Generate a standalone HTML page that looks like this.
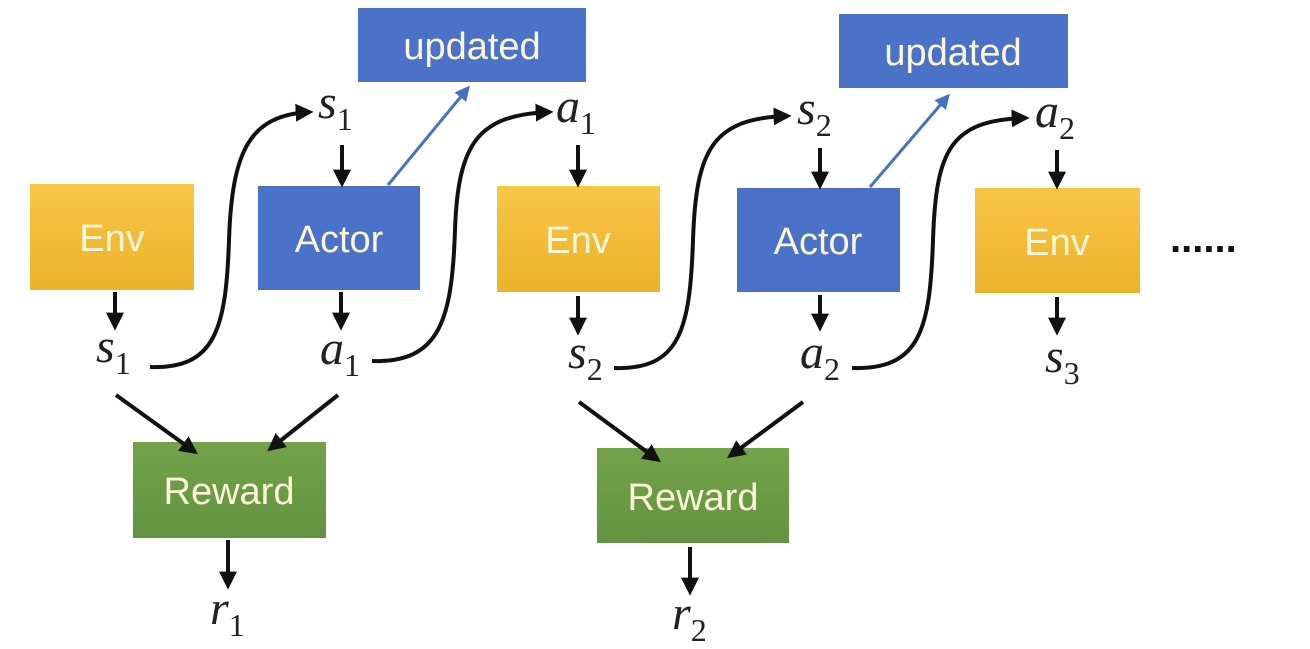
<!DOCTYPE html>
<html><head><meta charset="utf-8"><style>
html,body{margin:0;padding:0;background:#fff;width:1310px;height:649px;overflow:hidden}
svg{display:block}
.bx{font-family:"Liberation Sans",sans-serif;font-size:38px;fill:#fdf6d8;text-anchor:middle}
.m{font-family:"Liberation Serif",serif;font-style:italic;font-size:48px;fill:#222}
.sub{font-family:"Liberation Serif",serif;font-style:normal;font-size:32px}
.k{stroke:#111;stroke-width:4;fill:none}
</style></head><body>
<svg width="1310" height="649" viewBox="0 0 1310 649" xmlns="http://www.w3.org/2000/svg">
<defs>
<marker id="ar" viewBox="0 0 10 10" refX="8" refY="5" markerWidth="4.5" markerHeight="4.5" orient="auto"><path d="M0,0 L10,5 L0,10 Z" fill="#111"/></marker>
<marker id="ab" viewBox="0 0 10 10" refX="8" refY="5" markerWidth="5" markerHeight="5" orient="auto"><path d="M0,0 L10,5 L0,10 Z" fill="#4472c4"/></marker>
<linearGradient id="gy" x1="0" y1="0" x2="0" y2="1"><stop offset="0" stop-color="#f8c545"/><stop offset="1" stop-color="#ebb32c"/></linearGradient>
<linearGradient id="gg" x1="0" y1="0" x2="0" y2="1"><stop offset="0" stop-color="#73a24a"/><stop offset="1" stop-color="#639340"/></linearGradient>
</defs>
<rect x="30" y="184" width="164" height="106" fill="url(#gy)"/><text class="bx" x="112" y="251">Env</text>
<rect x="358" y="8" width="228" height="74" fill="#4a72c8"/><text class="bx" x="472" y="59">updated</text>
<rect x="258" y="186" width="162" height="104" fill="#4a72c8"/><text class="bx" x="339" y="252">Actor</text>
<rect x="497" y="186" width="163" height="106" fill="url(#gy)"/><text class="bx" x="578" y="253">Env</text>
<rect x="839" y="14" width="229" height="74" fill="#4a72c8"/><text class="bx" x="953" y="65">updated</text>
<rect x="737" y="188" width="163" height="104" fill="#4a72c8"/><text class="bx" x="818" y="254">Actor</text>
<rect x="975" y="188" width="165" height="105" fill="url(#gy)"/><text class="bx" x="1057" y="255">Env</text>
<rect x="133" y="442" width="193" height="96" fill="url(#gg)"/><text class="bx" x="229" y="504">Reward</text>
<rect x="597" y="448" width="192" height="95" fill="url(#gg)"/><text class="bx" x="693" y="510">Reward</text>
<text x="1170" y="252" font-family="Liberation Sans,sans-serif" font-size="40" font-weight="bold" fill="#111">......</text>
<text class="m" x="96" y="362">s<tspan class="sub" dy="12">1</tspan></text>
<text class="m" x="320" y="364">a<tspan class="sub" dy="12">1</tspan></text>
<text class="m" x="568" y="368">s<tspan class="sub" dy="12">2</tspan></text>
<text class="m" x="800" y="368">a<tspan class="sub" dy="12">2</tspan></text>
<text class="m" x="1045" y="372">s<tspan class="sub" dy="12">3</tspan></text>
<text class="m" x="318" y="118">s<tspan class="sub" dy="12">1</tspan></text>
<text class="m" x="556" y="122">a<tspan class="sub" dy="12">1</tspan></text>
<text class="m" x="797" y="124">s<tspan class="sub" dy="12">2</tspan></text>
<text class="m" x="1035" y="127">a<tspan class="sub" dy="12">2</tspan></text>
<text class="m" x="210" y="624">r<tspan class="sub" dy="12">1</tspan></text>
<text class="m" x="672" y="629">r<tspan class="sub" dy="12">2</tspan></text>
<path class="k" marker-end="url(#ar)" d="M150,367 C215,369 226,330 229,240 C232,150 250,115 310,112"/>
<path class="k" marker-end="url(#ar)" d="M372,361 C440,363 452,320 455,230 C458,140 480,115 550,112"/>
<path class="k" marker-end="url(#ar)" d="M614,368 C680,370 690,330 693,240 C696,150 712,118 788,116"/>
<path class="k" marker-end="url(#ar)" d="M852,368 C920,370 930,330 933,240 C936,150 950,120 1026,118"/>
<line x1="388" y1="185" x2="468" y2="88" stroke="#4472c4" stroke-width="3" marker-end="url(#ab)"/>
<line x1="870" y1="187" x2="948" y2="96" stroke="#4472c4" stroke-width="3" marker-end="url(#ab)"/>
<g class="k" marker-end="url(#ar)">
<line x1="115" y1="292" x2="115" y2="327"/>
<line x1="341" y1="292" x2="341" y2="327"/>
<line x1="342" y1="145" x2="342" y2="184"/>
<line x1="578" y1="145" x2="578" y2="184"/>
<line x1="578" y1="296" x2="578" y2="332"/>
<line x1="820" y1="148" x2="820" y2="186"/>
<line x1="820" y1="295" x2="820" y2="328"/>
<line x1="1057" y1="150" x2="1057" y2="186"/>
<line x1="1057" y1="297" x2="1057" y2="332"/>
<line x1="116" y1="395" x2="195" y2="452"/>
<line x1="338" y1="395" x2="270" y2="449"/>
<line x1="579" y1="402" x2="658" y2="460"/>
<line x1="803" y1="402" x2="730" y2="456"/>
<line x1="228" y1="540" x2="228" y2="586"/>
<line x1="690" y1="547" x2="690" y2="592"/>
</g>
</svg>
</body></html>
